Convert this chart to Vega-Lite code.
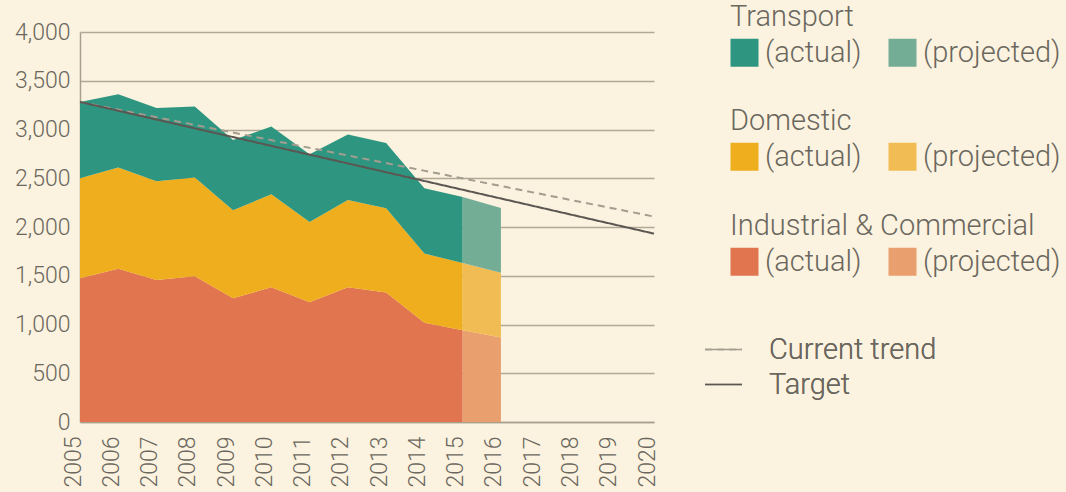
{
  "$schema": "https://vega.github.io/schema/vega-lite/v6.json",
  "width": 574,
  "height": 390,
  "autosize": {"type": "none"},
  "padding": {"left": 80, "top": 32, "right": 412, "bottom": 70},
  "background": "#FBF3DF",
  "config": {
    "font": "Roboto",
    "view": {"stroke": null},
    "axis": {
      "labelColor": "#6B675E",
      "labelFontWeight": 300,
      "domainColor": "#A9A08F",
      "domainWidth": 1.5,
      "gridColor": "#B1A896",
      "gridWidth": 1.5,
      "ticks": false
    },
    "legend": {
      "labelColor": "#6B675E",
      "titleColor": "#6B675E",
      "labelFont": "Roboto",
      "titleFont": "Roboto",
      "labelFontWeight": 300,
      "titleFontWeight": 300,
      "labelFontSize": 29,
      "titleFontSize": 29,
      "titleLimit": 500,
      "labelLimit": 500,
      "padding": 0
    }
  },
  "data": {
    "values": [
      {"sector": "Industrial & Commercial", "rank": 1, "status": "(actual)", "year": 2005, "value": 1474},
      {"sector": "Industrial & Commercial", "rank": 1, "status": "(actual)", "year": 2006, "value": 1573},
      {"sector": "Industrial & Commercial", "rank": 1, "status": "(actual)", "year": 2007, "value": 1456},
      {"sector": "Industrial & Commercial", "rank": 1, "status": "(actual)", "year": 2008, "value": 1494},
      {"sector": "Industrial & Commercial", "rank": 1, "status": "(actual)", "year": 2009, "value": 1269},
      {"sector": "Industrial & Commercial", "rank": 1, "status": "(actual)", "year": 2010, "value": 1382},
      {"sector": "Industrial & Commercial", "rank": 1, "status": "(actual)", "year": 2011, "value": 1228},
      {"sector": "Industrial & Commercial", "rank": 1, "status": "(actual)", "year": 2012, "value": 1382},
      {"sector": "Industrial & Commercial", "rank": 1, "status": "(actual)", "year": 2013, "value": 1327},
      {"sector": "Industrial & Commercial", "rank": 1, "status": "(actual)", "year": 2014, "value": 1019},
      {"sector": "Industrial & Commercial", "rank": 1, "status": "(actual)", "year": 2015, "value": 940},
      {"sector": "Industrial & Commercial", "rank": 1, "status": "(projected)", "year": 2015, "value": 940},
      {"sector": "Industrial & Commercial", "rank": 1, "status": "(projected)", "year": 2016, "value": 866},
      {"sector": "Domestic", "rank": 2, "status": "(actual)", "year": 2005, "value": 1025},
      {"sector": "Domestic", "rank": 2, "status": "(actual)", "year": 2006, "value": 1036},
      {"sector": "Domestic", "rank": 2, "status": "(actual)", "year": 2007, "value": 1013},
      {"sector": "Domestic", "rank": 2, "status": "(actual)", "year": 2008, "value": 1013},
      {"sector": "Domestic", "rank": 2, "status": "(actual)", "year": 2009, "value": 902},
      {"sector": "Domestic", "rank": 2, "status": "(actual)", "year": 2010, "value": 953},
      {"sector": "Domestic", "rank": 2, "status": "(actual)", "year": 2011, "value": 823},
      {"sector": "Domestic", "rank": 2, "status": "(actual)", "year": 2012, "value": 895},
      {"sector": "Domestic", "rank": 2, "status": "(actual)", "year": 2013, "value": 865},
      {"sector": "Domestic", "rank": 2, "status": "(actual)", "year": 2014, "value": 708},
      {"sector": "Domestic", "rank": 2, "status": "(actual)", "year": 2015, "value": 691},
      {"sector": "Domestic", "rank": 2, "status": "(projected)", "year": 2015, "value": 691},
      {"sector": "Domestic", "rank": 2, "status": "(projected)", "year": 2016, "value": 666},
      {"sector": "Transport", "rank": 3, "status": "(actual)", "year": 2005, "value": 783},
      {"sector": "Transport", "rank": 3, "status": "(actual)", "year": 2006, "value": 752},
      {"sector": "Transport", "rank": 3, "status": "(actual)", "year": 2007, "value": 752},
      {"sector": "Transport", "rank": 3, "status": "(actual)", "year": 2008, "value": 728},
      {"sector": "Transport", "rank": 3, "status": "(actual)", "year": 2009, "value": 721},
      {"sector": "Transport", "rank": 3, "status": "(actual)", "year": 2010, "value": 695},
      {"sector": "Transport", "rank": 3, "status": "(actual)", "year": 2011, "value": 695},
      {"sector": "Transport", "rank": 3, "status": "(actual)", "year": 2012, "value": 671},
      {"sector": "Transport", "rank": 3, "status": "(actual)", "year": 2013, "value": 670},
      {"sector": "Transport", "rank": 3, "status": "(actual)", "year": 2014, "value": 670},
      {"sector": "Transport", "rank": 3, "status": "(actual)", "year": 2015, "value": 677},
      {"sector": "Transport", "rank": 3, "status": "(projected)", "year": 2015, "value": 677},
      {"sector": "Transport", "rank": 3, "status": "(projected)", "year": 2016, "value": 663}
    ]
  },
  "layer": [
    {
      "transform": [
        {"stack": "value", "groupby": ["year", "status"], "sort": [{"field": "rank", "order": "ascending"}], "as": ["lo", "hi"]},
        {"filter": "datum.sector === 'Industrial & Commercial'"}
      ],
      "mark": {"type": "area", "opacity": 1},
      "encoding": {
        "x": {
          "field": "year", "type": "quantitative",
          "scale": {"domain": [2005, 2020], "nice": false, "zero": false},
          "axis": {
            "title": null, "values": [2005,2006,2007,2008,2009,2010,2011,2012,2013,2014,2015,2016,2017,2018,2019,2020],
            "format": "d", "labelAngle": -90, "labelAlign": "right", "labelBaseline": "alphabetic",
            "labelFontSize": 23, "labelPadding": 14, "grid": false, "labelOverlap": false, "labelFlush": false
          }
        },
        "y": {
          "field": "hi", "type": "quantitative",
          "scale": {"domain": [0, 4000], "nice": false},
          "axis": {
            "title": null, "values": [0,500,1000,1500,2000,2500,3000,3500,4000],
            "format": ",.0f", "labelFontSize": 23, "labelPadding": 10, "grid": true, "labelFlush": false, "labelOverlap": false
          }
        },
        "y2": {"field": "lo"},
        "color": {
          "field": "status", "type": "nominal",
          "scale": {"domain": ["(actual)", "(projected)"], "range": ["#E07550", "#E99F6E"]},
          "legend": {
            "title": "Industrial & Commercial", "orient": "none", "legendX": 650, "legendY": 180,
            "direction": "horizontal", "columns": 2, "symbolType": "square", "symbolSize": 784,
            "symbolStrokeWidth": 0, "labelOffset": 6, "columnPadding": 26, "titlePadding": 6,
            "encode": {"symbols": {"update": {"fill": {"signal": "datum.value === '(projected)' ? '#EC9F7C' : '#E07550'"}, "opacity": {"value": 1}}}}
          }
        }
      }
    },
    {
      "transform": [
        {"stack": "value", "groupby": ["year", "status"], "sort": [{"field": "rank", "order": "ascending"}], "as": ["lo", "hi"]},
        {"filter": "datum.sector === 'Domestic'"}
      ],
      "mark": {"type": "area", "opacity": 1},
      "encoding": {
        "x": {
          "field": "year", "type": "quantitative",
          "scale": {"domain": [2005, 2020], "nice": false, "zero": false},
          "axis": {
            "title": null, "values": [2005,2006,2007,2008,2009,2010,2011,2012,2013,2014,2015,2016,2017,2018,2019,2020],
            "format": "d", "labelAngle": -90, "labelAlign": "right", "labelBaseline": "alphabetic",
            "labelFontSize": 23, "labelPadding": 14, "grid": false, "labelOverlap": false, "labelFlush": false
          }
        },
        "y": {
          "field": "hi", "type": "quantitative",
          "scale": {"domain": [0, 4000], "nice": false},
          "axis": {
            "title": null, "values": [0,500,1000,1500,2000,2500,3000,3500,4000],
            "format": ",.0f", "labelFontSize": 23, "labelPadding": 10, "grid": true, "labelFlush": false, "labelOverlap": false
          }
        },
        "y2": {"field": "lo"},
        "color": {
          "field": "status", "type": "nominal",
          "scale": {"domain": ["(actual)", "(projected)"], "range": ["#EEAE1D", "#F2BC55"]},
          "legend": {
            "title": "Domestic", "orient": "none", "legendX": 650, "legendY": 75,
            "direction": "horizontal", "columns": 2, "symbolType": "square", "symbolSize": 784,
            "symbolStrokeWidth": 0, "labelOffset": 6, "columnPadding": 26, "titlePadding": 6,
            "encode": {"symbols": {"update": {"fill": {"signal": "datum.value === '(projected)' ? '#F4C466' : '#EEAE1D'"}, "opacity": {"value": 1}}}}
          }
        }
      }
    },
    {
      "transform": [
        {"stack": "value", "groupby": ["year", "status"], "sort": [{"field": "rank", "order": "ascending"}], "as": ["lo", "hi"]},
        {"filter": "datum.sector === 'Transport'"}
      ],
      "mark": {"type": "area", "opacity": 1},
      "encoding": {
        "x": {
          "field": "year", "type": "quantitative",
          "scale": {"domain": [2005, 2020], "nice": false, "zero": false},
          "axis": {
            "title": null, "values": [2005,2006,2007,2008,2009,2010,2011,2012,2013,2014,2015,2016,2017,2018,2019,2020],
            "format": "d", "labelAngle": -90, "labelAlign": "right", "labelBaseline": "alphabetic",
            "labelFontSize": 23, "labelPadding": 14, "grid": false, "labelOverlap": false, "labelFlush": false
          }
        },
        "y": {
          "field": "hi", "type": "quantitative",
          "scale": {"domain": [0, 4000], "nice": false},
          "axis": {
            "title": null, "values": [0,500,1000,1500,2000,2500,3000,3500,4000],
            "format": ",.0f", "labelFontSize": 23, "labelPadding": 10, "grid": true, "labelFlush": false, "labelOverlap": false
          }
        },
        "y2": {"field": "lo"},
        "color": {
          "field": "status", "type": "nominal",
          "scale": {"domain": ["(actual)", "(projected)"], "range": ["#2E9680", "#74AD96"]},
          "legend": {
            "title": "Transport", "orient": "none", "legendX": 650, "legendY": -29,
            "direction": "horizontal", "columns": 2, "symbolType": "square", "symbolSize": 784,
            "symbolStrokeWidth": 0, "labelOffset": 6, "columnPadding": 26, "titlePadding": 6,
            "encode": {"symbols": {"update": {"fill": {"signal": "datum.value === '(projected)' ? '#A6C5AF' : '#2E9680'"}, "opacity": {"value": 1}}}}
          }
        }
      }
    },
    {
      "data": {
        "values": [
          {"series": "Current trend", "year": 2005, "value": 3282},
          {"series": "Current trend", "year": 2020, "value": 2107},
          {"series": "Target", "year": 2005, "value": 3282},
          {"series": "Target", "year": 2020, "value": 1932}
        ]
      },
      "mark": {"type": "line", "strokeWidth": 2},
      "encoding": {
        "x": {
          "field": "year", "type": "quantitative",
          "scale": {"domain": [2005, 2020], "nice": false, "zero": false},
          "axis": {
            "title": null, "values": [2005,2006,2007,2008,2009,2010,2011,2012,2013,2014,2015,2016,2017,2018,2019,2020],
            "format": "d", "labelAngle": -90, "labelAlign": "right", "labelBaseline": "alphabetic",
            "labelFontSize": 23, "labelPadding": 14, "grid": false, "labelOverlap": false, "labelFlush": false
          }
        },
        "y": {
          "field": "value", "type": "quantitative",
          "scale": {"domain": [0, 4000], "nice": false},
          "axis": {
            "title": null, "values": [0,500,1000,1500,2000,2500,3000,3500,4000],
            "format": ",.0f", "labelFontSize": 23, "labelPadding": 10, "grid": true, "labelFlush": false, "labelOverlap": false
          }
        },
        "color": {
          "field": "series", "type": "nominal",
          "scale": {"domain": ["Current trend", "Target"], "range": ["#A39C8F", "#5B5651"]},
          "legend": {
            "title": null, "orient": "none", "legendX": 624, "legendY": 298,
            "direction": "vertical", "symbolType": "stroke", "symbolSize": 1369,
            "symbolStrokeWidth": 1.5, "labelOffset": 26, "rowPadding": 0
          }
        },
        "strokeDash": {
          "field": "series", "type": "nominal",
          "scale": {"domain": ["Current trend", "Target"], "range": [[7, 5], [1, 0]]},
          "legend": {
            "title": null, "orient": "none", "legendX": 624, "legendY": 298,
            "direction": "vertical", "symbolType": "stroke", "symbolSize": 1369,
            "symbolStrokeWidth": 1.5, "labelOffset": 26, "rowPadding": 0
          }
        }
      }
    }
  ],
  "resolve": {"scale": {"color": "independent"}}
}
